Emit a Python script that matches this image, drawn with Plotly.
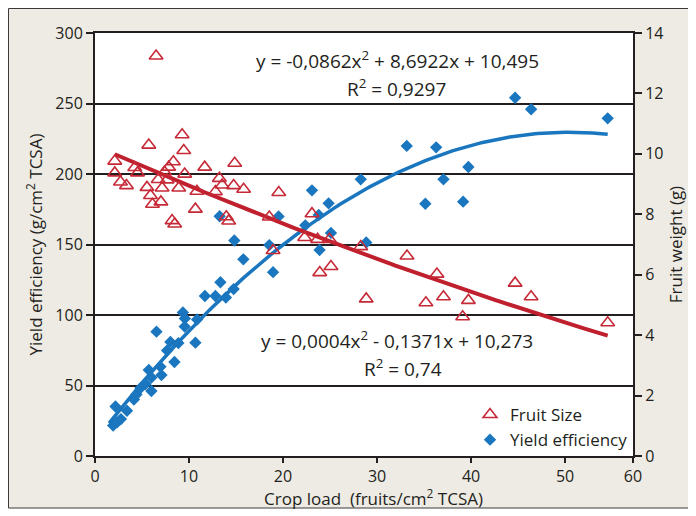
import numpy as np
import plotly.graph_objects as go

# ---- Data ----
# Fruit size (fruit weight, g) vs crop load (fruits/cm2 TCSA) -> right axis
size_load = [6.50, 9.27, 9.44, 5.72, 2.10, 2.10, 2.71, 3.35, 4.23, 4.52, 8.34, 7.84, 7.39, 6.72,
             7.67, 9.54, 11.67, 14.86, 13.23, 13.52, 14.75, 15.81, 12.81, 10.84, 8.91, 7.14, 5.53,
             5.90, 6.11, 7.01, 10.68, 8.20, 8.48, 13.97, 14.22, 18.54, 18.94, 19.55, 23.08, 22.30,
             23.68, 24.94, 23.91, 25.10, 28.27, 33.19, 28.85, 36.37, 35.20, 37.07, 39.72, 39.11,
             44.69, 46.39, 54.54]
size_weight = [13.24, 10.63, 10.11, 10.29, 9.76, 9.37, 9.07, 8.95, 9.55, 9.37, 9.74, 9.56, 9.40, 9.15,
               9.14, 9.33, 9.56, 9.69, 9.19, 8.97, 8.95, 8.83, 8.75, 8.76, 8.87, 8.87, 8.89,
               8.62, 8.33, 8.41, 8.17, 7.79, 7.68, 7.92, 7.78, 7.91, 6.80, 8.72, 8.02, 7.23,
               7.17, 7.17, 6.07, 6.27, 6.93, 6.62, 5.20, 6.02, 5.07, 5.27, 5.15, 4.61,
               5.72, 5.27, 4.41]

# Yield efficiency (g/cm2 TCSA) vs crop load -> left axis
yield_load = [1.93, 2.34, 2.76, 2.18, 3.40, 4.14, 4.41, 4.84, 5.37, 5.72, 6.00, 6.00, 6.96, 7.07,
              7.67, 8.02, 8.45, 8.87, 6.54, 9.35, 9.56, 9.54, 10.68, 10.86, 11.69, 12.81, 13.92,
              13.34, 14.75, 15.78, 14.82, 18.54, 18.94, 13.26, 19.53, 22.37, 23.08, 23.80, 24.85,
              25.10, 23.89, 28.85, 28.27, 33.16, 36.29, 37.07, 39.72, 35.14, 39.16, 44.69, 46.39,
              54.54]
yield_eff = [21.6, 23.8, 26.2, 35.1, 32.1, 40.1, 43.6, 48.2, 51.1, 61.0, 55.7, 46.1, 63.3, 57.4,
             74.8, 80.9, 66.7, 80.1, 88.2, 101.8, 97.5, 91.8, 80.4, 96.8, 113.5, 113.5, 112.4,
             123.2, 118.4, 139.5, 152.8, 149.6, 130.4, 170.0, 169.9, 163.6, 188.4, 170.9, 179.2,
             158.2, 146.1, 151.4, 196.2, 219.9, 218.9, 196.2, 205.0, 178.9, 180.4, 254.1, 245.9,
             239.5]

# Polynomial trendline coefficients printed on the chart (a*x^2 + b*x + c)
yield_coef = [-0.0862, 8.6922, 10.495]
size_coef = [0.0004, -0.1371, 10.273]
yield_eq = "y = -0,0862x<sup>2</sup> + 8,6922x + 10,495"
yield_r2 = "R<sup>2</sup> = 0,9297"
size_eq = "y = 0,0004x<sup>2</sup> - 0,1371x + 10,273"
size_r2 = "R<sup>2</sup> = 0,74"
x_title = "Crop load  (fruits/cm<sup>2</sup> TCSA)"

# Axis ticks (the reference puts its "60" label at the right edge of the frame)
x_tickvals = [0, 10, 20, 30, 40, 50, 57.23]
x_ticktext = ["0", "10", "20", "30", "40", "50", "60"]
y_tickvals = [0, 50, 100, 150, 200, 250, 300]
y2_tickvals = [0, 2, 4, 6, 8, 10, 12, 14]

RED = "#c62a37"
BLUE = "#1a76be"
INK = "#231f20"
FONT = "Open Sans"

yx = np.linspace(1.5, max(yield_load), 200)
yy = np.polyval(yield_coef, yx)
sx = np.linspace(min(size_load), max(size_load), 200)
sy = np.polyval(size_coef, sx)

fig = go.Figure()

fig.add_trace(go.Scatter(x=yx, y=yy, mode="lines", line=dict(color=BLUE, width=3.5),
                         showlegend=False, hoverinfo="skip", yaxis="y"))
fig.add_trace(go.Scatter(x=sx, y=sy, mode="lines", line=dict(color="#c01f2e", width=4),
                         showlegend=False, hoverinfo="skip", yaxis="y2"))

fig.add_trace(go.Scatter(x=size_load, y=size_weight, mode="markers", name="Fruit Size",
                         marker=dict(symbol="triangle-up-open", size=12, color=RED,
                                     line=dict(width=1.6, color=RED)),
                         yaxis="y2"))
fig.add_trace(go.Scatter(x=yield_load, y=yield_eff, mode="markers", name="Yield efficiency",
                         marker=dict(symbol="diamond", size=9.5, color=BLUE, line=dict(width=0)),
                         yaxis="y"))

# The page body adds an 8px offset; figure is sized so that it fills the window.
OFF = 8
W, H = 696 - OFF, 516 - OFF
L, T = 95 - OFF, 33 - OFF
R = W - (633 - OFF)
B = H - (456 - OFF)
pw, ph = W - L - R, H - T - B


def px_x(p):
    return (p - OFF - L) / pw


def px_y(p):
    return (H - B - (p - OFF)) / ph


shapes = [
    dict(type="rect", xref="paper", yref="paper", x0=px_x(8.5), x1=px_x(705), y0=px_y(508),
         y1=px_y(8.5), fillcolor="#eeebe4", line=dict(color="#3a3a3a", width=1), layer="below"),
    dict(type="rect", xref="paper", yref="paper", x0=0, x1=1, y0=0, y1=1,
         fillcolor="white", line=dict(width=0), layer="below"),
]

ann_font = dict(family=FONT, size=19, color=INK)
tick_font = dict(family=FONT, size=16, color=INK)
title_font = dict(family=FONT, size=17, color=INK)

annotations = [
    dict(text=yield_eq, x=px_x(397), y=px_y(60), xref="paper", yref="paper", showarrow=False,
         xanchor="center", yanchor="middle", font=ann_font),
    dict(text=yield_r2, x=px_x(396), y=px_y(88), xref="paper", yref="paper", showarrow=False,
         xanchor="center", yanchor="middle", font=ann_font),
    dict(text=size_eq, x=px_x(397), y=px_y(340), xref="paper", yref="paper", showarrow=False,
         xanchor="center", yanchor="middle", font=ann_font),
    dict(text=size_r2, x=px_x(403), y=px_y(368), xref="paper", yref="paper", showarrow=False,
         xanchor="center", yanchor="middle", font=ann_font),
    dict(text=x_title, x=px_x(373), y=px_y(498), xref="paper", yref="paper", showarrow=False,
         xanchor="center", yanchor="middle", font=title_font),
]

fig.update_layout(
    width=W, height=H,
    margin=dict(l=L, r=R, t=T, b=B, pad=0),
    paper_bgcolor="white",
    plot_bgcolor="white",
    font=dict(family=FONT, color=INK),
    shapes=shapes,
    annotations=annotations,
    xaxis=dict(range=[0, 57.23], tickvals=x_tickvals, ticktext=x_ticktext,
               showgrid=False, zeroline=False, showline=True, linecolor=INK, linewidth=2,
               mirror=True, ticks="outside", ticklen=5, tickwidth=2, tickcolor=INK,
               tickfont=tick_font),
    yaxis=dict(range=[0, 300], tickvals=y_tickvals, showgrid=True, gridcolor=INK, gridwidth=1.5,
               zeroline=False, showline=True, linecolor=INK, linewidth=2,
               ticks="outside", ticklen=7, tickwidth=2, tickcolor=INK, tickfont=tick_font,
               title=dict(text="Yield efficiency (g/cm<sup>2</sup> TCSA)", font=title_font, standoff=8)),
    yaxis2=dict(range=[0, 14], tickvals=y2_tickvals, overlaying="y", side="right",
                showgrid=False, zeroline=False, showline=True, linecolor=INK, linewidth=2,
                ticks="outside", ticklen=7, tickwidth=2, tickcolor=INK, tickfont=tick_font,
                title=dict(text="Fruit weight (g)", font=title_font, standoff=8)),
    legend=dict(x=px_x(470), y=px_y(397), xanchor="left", yanchor="top",
                bgcolor="rgba(0,0,0,0)", borderwidth=0,
                font=dict(family=FONT, size=17, color=INK),
                itemwidth=30, tracegroupgap=0),
    showlegend=True,
)

fig.write_html("out.html")
